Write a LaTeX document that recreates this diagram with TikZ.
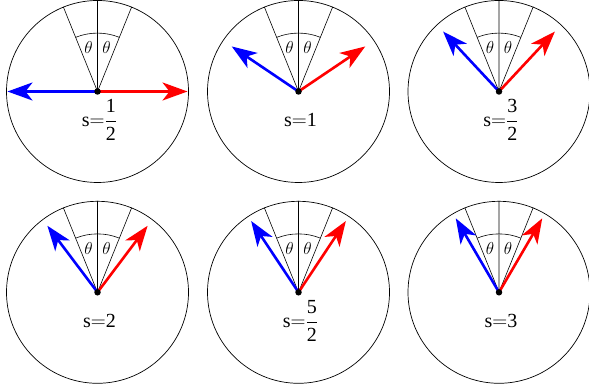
\documentclass[tikz,border=0pt]{standalone}
\usepackage{amsmath}
\usepackage{fontspec}
\setmainfont{Liberation Serif}
\usetikzlibrary{arrows.meta}

\begin{document}
\begin{tikzpicture}[x=1pt,y=1pt,
                    rim/.style={draw,circle,minimum size=182pt,inner sep=0pt,line width=0.7pt},
                    pivot/.style={fill,circle,inner sep=0pt,minimum size=6.5pt},
                    guide/.style={line width=0.6pt},
                    spin/.style={line width=2.6pt,-{Stealth[length=25pt,width=18pt,inset=7pt]}},
                    angle label/.style={font=\fontsize{18}{21}\selectfont,inner sep=0pt},
                    spin label/.style={font=\fontsize{20}{24}\selectfont,anchor=base,inner sep=0pt}]
  \useasboundingbox (0,0) rectangle (589,390);
  \foreach \i/\x/\y/\a/\l/\s in {1/97.5/298.5/90/90/{s{$=$}{$\dfrac{\text{1}}{\text{2}}$}},
                                 2/298.5/298.5/56/80.5/{s{$=$}1},
                                 3/499/298.5/43/82/{s{$=$}{$\dfrac{\text{3}}{\text{2}}$}},
                                 4/97.5/97.7/37/83.3/{s{$=$}2},
                                 5/298.5/97.7/33.6/85.6/{s{$=$}{$\dfrac{\text{5}}{\text{2}}$}},
                                 6/499/97.7/30.3/85.7/{s{$=$}3}}
  {
    \coordinate (c\i) at (\x,\y);
    \node[rim] (rim\i) at (c\i) {};
    % cone of half-angle theta
    \draw[guide] (c\i) -- (rim\i.90)
                 (c\i) -- (rim\i.68)
                 (c\i) -- (rim\i.112);
    \draw[guide] ([shift={(68:58.4)}]c\i) arc (68:112:58.4);
    \node[angle label] (tl\i) at ([shift={(-9,43.5)}]c\i) {$\theta$};
    \node[angle label] (tr\i) at ([shift={(9,43.5)}]c\i)  {$\theta$};
    % the two spins
    \path (c\i) ++(90-\a:\l) coordinate (up\i)
          (c\i) ++(90+\a:\l) coordinate (dn\i);
    \draw[spin,red]  (c\i) -- (up\i);
    \draw[spin,blue] (c\i) -- (dn\i);
    \node[pivot] (o\i) at (c\i) {};
    \node[spin label] (s\i) at ([shift={(2,-35)}]c\i) {\s};
  }
\end{tikzpicture}
\end{document}
